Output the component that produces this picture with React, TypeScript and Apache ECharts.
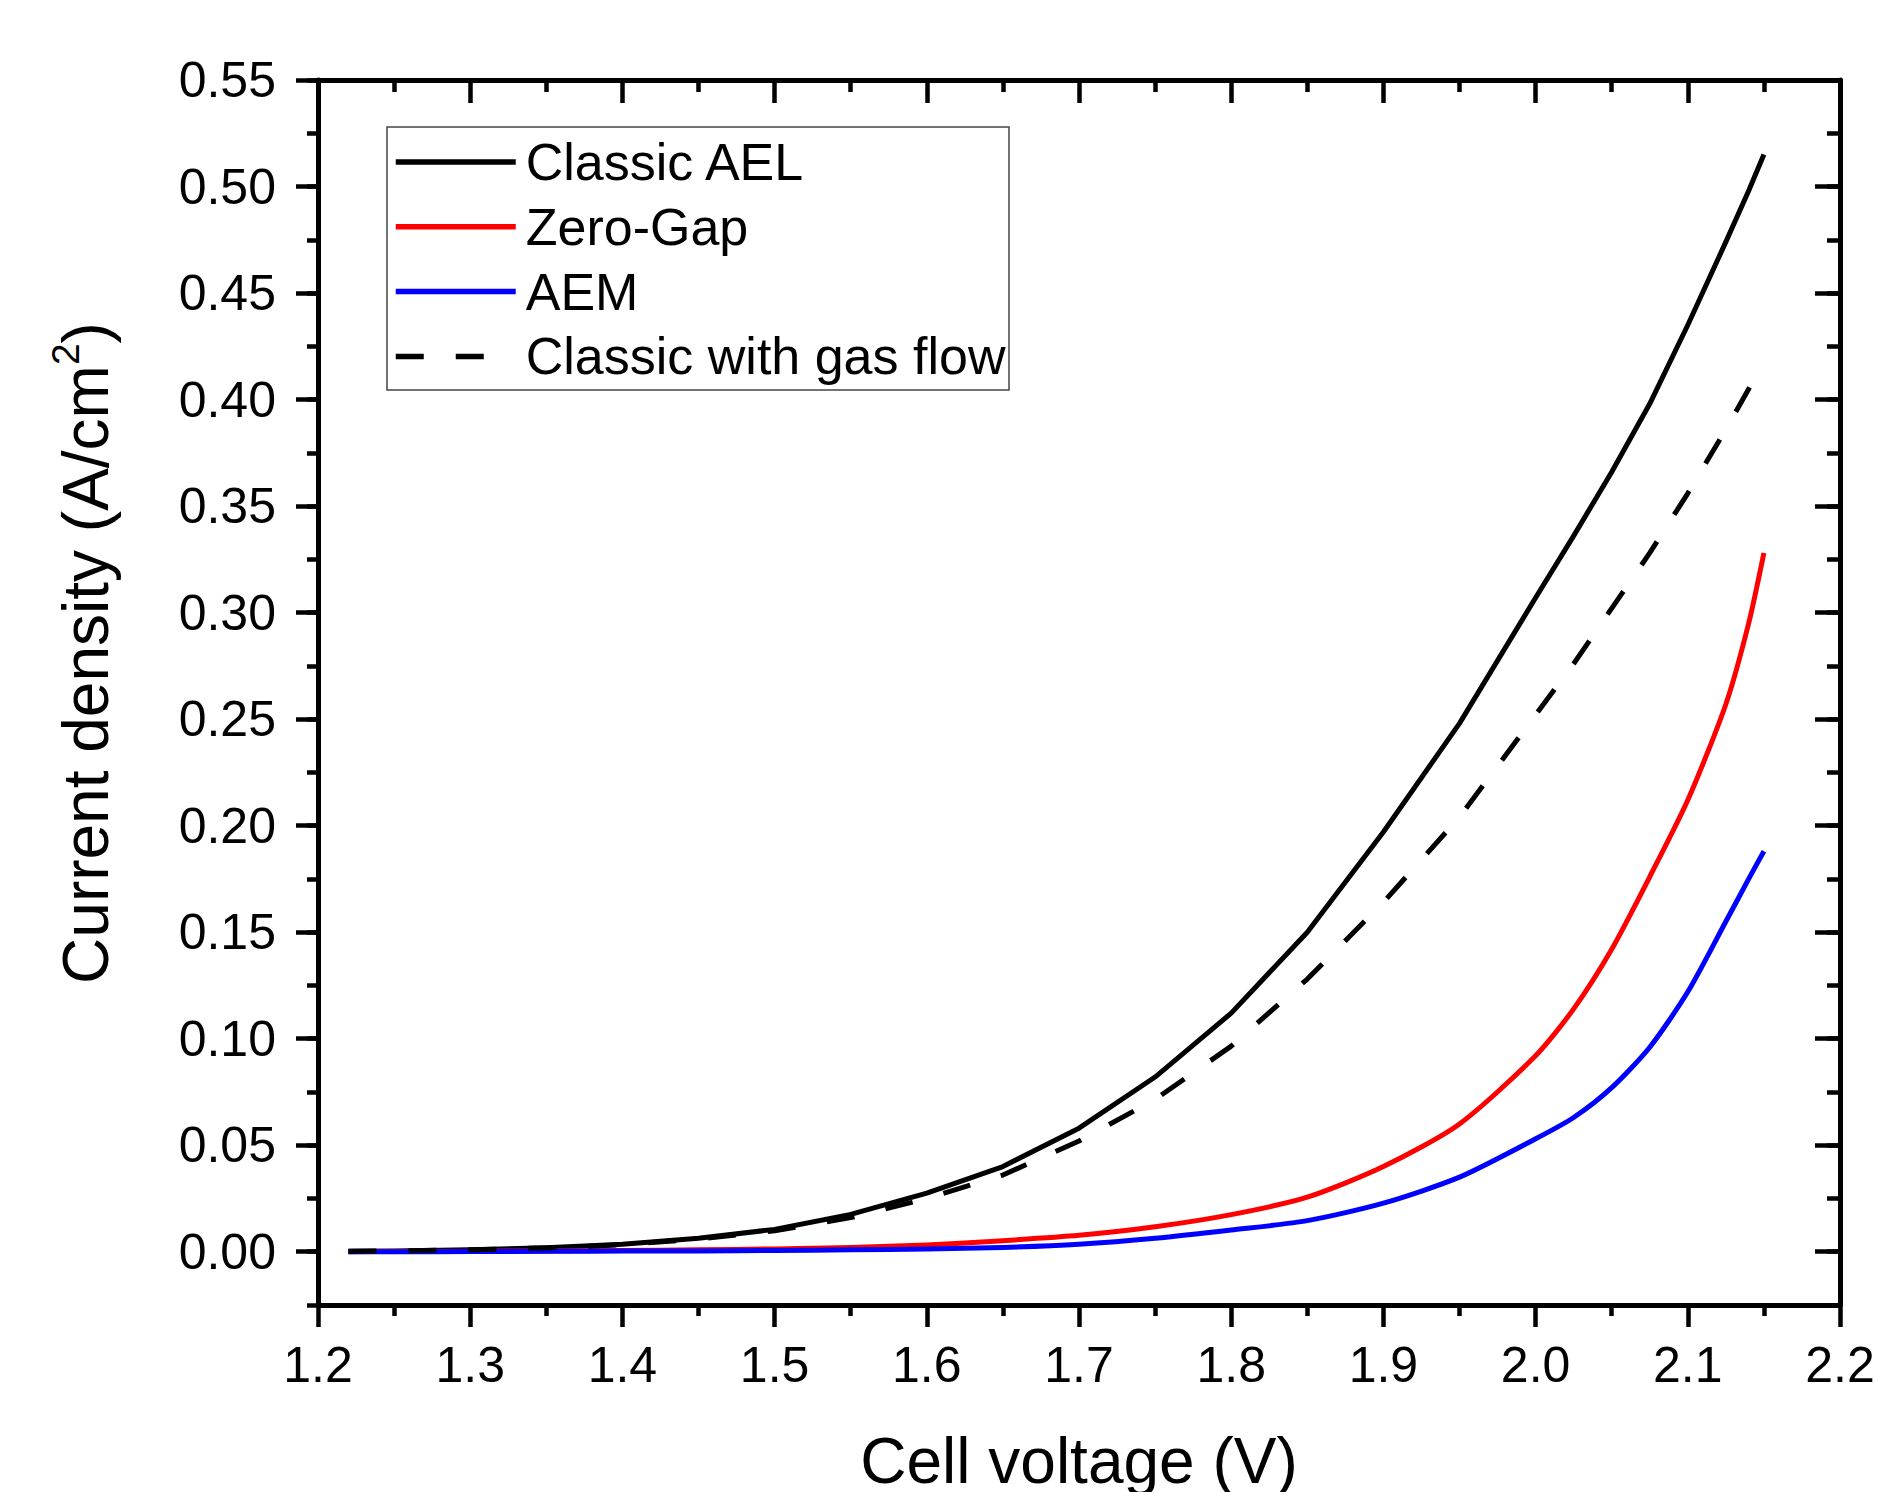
import React, { useEffect, useRef } from "react";
import * as echarts from "echarts";

// Cell voltage (V)
const voltage = [1.22, 1.25, 1.3, 1.35, 1.4, 1.45, 1.5, 1.55, 1.6, 1.65, 1.7, 1.75, 1.8, 1.85, 1.9, 1.95, 2.0, 2.025, 2.05, 2.075, 2.1, 2.125, 2.14, 2.15];
// Current density (A/cm2)
const classicAEL = [0.0002, 0.0004, 0.0009, 0.0019, 0.0035, 0.0063, 0.0105, 0.0175, 0.0275, 0.04, 0.058, 0.082, 0.112, 0.15, 0.197, 0.248, 0.307, 0.336, 0.366, 0.398, 0.435, 0.474, 0.498, 0.515];
const zeroGap = [0, 0.0001, 0.0002, 0.0004, 0.0006, 0.0009, 0.0013, 0.002, 0.0032, 0.0052, 0.0077, 0.0117, 0.0174, 0.0256, 0.04, 0.06, 0.092, 0.114, 0.142, 0.176, 0.212, 0.257, 0.295, 0.328];
const aem = [0, 0, 0.0001, 0.0002, 0.0003, 0.0004, 0.0006, 0.0009, 0.0013, 0.002, 0.0035, 0.0063, 0.0102, 0.0146, 0.0228, 0.035, 0.053, 0.063, 0.077, 0.096, 0.122, 0.155, 0.175, 0.188];
const classicGasFlow = [0.0002, 0.0004, 0.0009, 0.0018, 0.0033, 0.006, 0.0098, 0.016, 0.025, 0.036, 0.052, 0.0715, 0.0965, 0.128, 0.164, 0.204, 0.252, 0.276, 0.302, 0.328, 0.356, 0.386, 0.405, 0.418];

const seriesNames = ["Classic AEL", "Zero-Gap", "AEM", "Classic with gas flow"];
const yTickValues = [0, 0.05, 0.1, 0.15, 0.2, 0.25, 0.3, 0.35, 0.4, 0.45, 0.5, 0.55];
const xTitle = "Cell voltage (V)";

const FONT = '"Liberation Sans", Arial, Helvetica, sans-serif';

export default function App() {
  const ref = useRef<HTMLDivElement>(null);

  useEffect(() => {
    const chart = echarts.init(ref.current as HTMLDivElement, null, { renderer: "svg" });
    const pairs = (ys: number[]) => voltage.map((v, i) => [v, ys[i]]);
    const axisLine = { show: true, onZero: false, lineStyle: { color: "#000", width: 5 } };
    const tickStyle = { color: "#000", width: 4.5 };
    const labelStyle = { fontSize: 50, color: "#000", fontFamily: FONT };

    const xCommon = { type: "value", min: 1.2, max: 2.2, interval: 0.1, splitLine: { show: false }, gridIndex: 0 };
    const yCommon = { type: "value", min: -0.025, max: 0.55, splitLine: { show: false }, gridIndex: 0 };

    const lineSeries = (name: string, ys: number[], color: string, type: any, smooth: number | boolean) => ({
      name,
      type: "line",
      data: pairs(ys),
      xAxisIndex: 0,
      yAxisIndex: 0,
      symbol: "none",
      showSymbol: false,
      smooth,
      lineStyle: { color, width: 5, type, join: "round", cap: "butt" },
      itemStyle: { color },
      emphasis: { disabled: true },
    });

    chart.setOption({
      animation: false,
      backgroundColor: "#fff",
      grid: { left: 318, top: 80, width: 1522, height: 1225, containLabel: false, outerBoundsMode: "none" },
      xAxis: [
        {
          ...xCommon,
          position: "bottom",
          axisLine,
          axisTick: { show: true, length: 22, lineStyle: tickStyle },
          minorTick: { show: true, splitNumber: 2, length: 11, lineStyle: tickStyle },
          axisLabel: { ...labelStyle, margin: 35, showMinLabel: true, showMaxLabel: true, formatter: (v: number) => v.toFixed(1) },
        },
        {
          ...xCommon,
          position: "top",
          axisLine,
          axisTick: { show: true, inside: true, length: 23, lineStyle: tickStyle },
          minorTick: { show: true, splitNumber: 2, length: 12, lineStyle: tickStyle },
          axisLabel: { show: false },
        },
      ],
      yAxis: [
        {
          ...yCommon,
          position: "left",
          interval: 0.025,
          axisLine,
          axisTick: { show: true, length: 11, lineStyle: tickStyle },
          axisLabel: { ...labelStyle, margin: 42, customValues: yTickValues, formatter: (v: number) => v.toFixed(2) },
        },
        {
          ...yCommon,
          position: "left",
          axisLine: { show: false },
          axisTick: { show: true, length: 22, customValues: yTickValues, lineStyle: tickStyle },
          axisLabel: { show: false },
        },
        {
          ...yCommon,
          position: "right",
          interval: 0.025,
          axisLine,
          axisTick: { show: true, inside: true, length: 13, lineStyle: tickStyle },
          axisLabel: { show: false },
        },
        {
          ...yCommon,
          position: "right",
          axisLine: { show: false },
          axisTick: { show: true, inside: true, length: 25, customValues: yTickValues, lineStyle: tickStyle },
          axisLabel: { show: false },
        },
      ],
      legend: {
        data: seriesNames,
        orient: "vertical",
        left: 393,
        top: 136,
        padding: 0,
        itemWidth: 120,
        itemHeight: 20,
        itemGap: 12.8,
        selectedMode: false,
        itemStyle: { opacity: 0, borderWidth: 0 },
        lineStyle: { width: 5.5 },
        textStyle: { fontSize: 52, color: "#000", fontFamily: FONT, lineHeight: 50, padding: [0, 0, 0, 5] },
      },
      graphic: [
        {
          type: "rect",
          z: 1,
          shape: { x: 387, y: 127, width: 622, height: 263 },
          style: { fill: "#fff", stroke: "#444", lineWidth: 1.5 },
        },
        {
          type: "text",
          x: 1079,
          y: 1461,
          style: { text: xTitle, fontSize: 64, fontFamily: FONT, fill: "#000", align: "center", verticalAlign: "middle" },
        },
        {
          type: "text",
          x: 86,
          y: 653,
          rotation: Math.PI / 2,
          style: {
            text: "{a|Current density (A/cm}{s|2}{a|)}",
            align: "center",
            verticalAlign: "middle",
            fill: "#000",
            rich: {
              a: { fontSize: 64, fontFamily: FONT, fill: "#000", color: "#000", verticalAlign: "middle", lineHeight: 64 },
              s: { fontSize: 39, fontFamily: FONT, fill: "#000", color: "#000", verticalAlign: "middle", padding: [0, 0, 42, 0] },
            },
          },
        },
      ],
      series: [
        lineSeries(seriesNames[0], classicAEL, "#000000", "solid", false),
        lineSeries(seriesNames[1], zeroGap, "#ff0000", "solid", 0.25),
        lineSeries(seriesNames[2], aem, "#0000ff", "solid", 0.25),
        lineSeries(seriesNames[3], classicGasFlow, "#000000", [28, 32], false),
      ],
    });

    return () => chart.dispose();
  }, []);

  return (
    <div
      ref={ref}
      style={{ position: "fixed", left: 0, top: 0, width: 1892, height: 1492, background: "#fff" }}
    />
  );
}
